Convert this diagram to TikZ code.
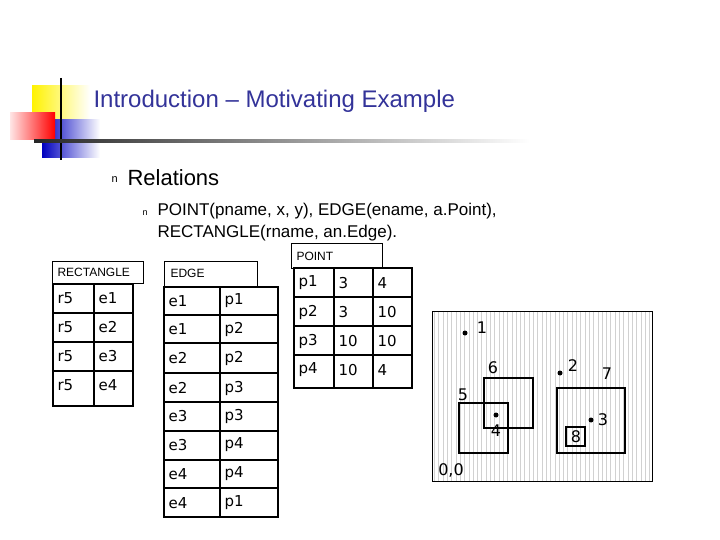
\documentclass[tikz,border=0pt]{standalone}
\usepackage{fontspec}
\setmainfont{DejaVu Sans}
\newfontfamily\lib{Liberation Sans}
\usetikzlibrary{shadings}
\definecolor{titleblue}{RGB}{51,51,153}
\tikzset{x=1pt,y=-1pt,
 cell/.style={draw,line width=1.3pt},
 tab/.style={draw,line width=2pt},
 lab/.style={draw,line width=0.6pt,fill=white},
 ct/.style={anchor=west,font=\fontsize{15}{15}\selectfont},
 lt/.style={anchor=west,font=\lib\fontsize{12}{12}\selectfont},
 gt/.style={font=\fontsize{16}{16}\selectfont},
 dot/.style={circle,fill=black,inner sep=0pt,minimum size=5pt},
 rct/.style={draw,line width=2.3pt}}
\begin{document}
\begin{tikzpicture}
\useasboundingbox (0,0) rectangle (720,540);
% decoration
\shade[left color=yellow!90!orange,right color=white] (32,86) rectangle (90,122);
\shade[left color=blue!75!black,right color=white] (42,120) rectangle (100,158);
\shade[left color=red!10,right color=red] (10,113) rectangle (55,140);
\draw[line width=1.8pt] (61,78) -- (61,160);
\shade[left color=black!85,right color=white] (34,140) rectangle (530,143);
\node[anchor=west,text=titleblue,font=\lib\fontsize{24}{24}\selectfont] (title) at (90,101) {Introduction – Motivating Example};
\node[anchor=west,font=\lib\fontsize{11}{11}\selectfont] (b1) at (108,180) {n};
\node[anchor=west,font=\lib\fontsize{22}{22}\selectfont] (rel) at (124,178) {Relations};
\node[anchor=west,font=\lib\fontsize{9}{9}\selectfont] (b2) at (139,213) {n};
\node[anchor=north west,align=left,font=\lib\fontsize{17}{22}\selectfont] (pt) at (154,200) {POINT(pname, x, y), EDGE(ename, a.Point),\\RECTANGLE(rname, an.Edge).};
% RECTANGLE
\draw[lab] (52,261) rectangle (143,283);
\node[lt] (rl) at (54,272) {RECTANGLE};
\foreach \y in {284,313,342,371} \draw[cell] (53,\y) -- (133,\y);
\draw[cell] (94,284) -- (94,406);
\draw[tab] (53,284) rectangle (133,406);
\foreach \t [count=\i] in {e1,e2,e3,e4}{
 \node[ct] at (54,284+29*\i-14.5) {r5};
 \node[ct] at (95,284+29*\i-14.5) {\t};}
% EDGE
\draw[lab] (164,261) rectangle (257,286);
\node[lt] (el) at (167,273) {EDGE};
\foreach \y in {315,343,373,402,431,460,488} \draw[cell] (164,\y) -- (278,\y);
\draw[cell] (220,287) -- (220,517);
\draw[tab] (164,287) rectangle (278,517);
\foreach \a/\b/\yy in {e1/p1/301,e1/p2/329,e2/p2/358,e2/p3/388,e3/p3/416,e3/p4/445,e4/p4/474,e4/p1/503}{
 \node[ct] at (165,\yy) {\a};
 \node[ct] at (221,\yy) {\b};}
% POINT
\draw[lab] (291,243) rectangle (382,268);
\node[lt] (pl) at (293,256) {POINT};
\foreach \y in {297,326,355} \draw[cell] (294,\y) -- (412,\y);
\draw[cell] (334,268) -- (334,388);
\draw[cell] (373,268) -- (373,388);
\draw[tab] (294,268) rectangle (412,388);
\foreach \a/\b/\c/\yy in {p1/3/4/283,p2/3/10/312,p3/10/10/341,p4/10/4/370}{
 \node[ct] at (295,\yy) {\a};
 \node[ct] at (335,\yy) {\b};
 \node[ct] at (374,\yy) {\c};}
% grid
\draw[black!18,line width=0.4pt,step=4.3] (432,311) grid (652,481);
\draw[line width=0.8pt] (432,311) rectangle (652,481);
\draw[rct] (459,403) rectangle (508,453);
\draw[rct] (484,378) rectangle (533,428);
\draw[rct] (557,388) rectangle (625,453);
\draw[rct] (566,427) rectangle (585,446);
\node[dot] (d1) at (465,333) {};
\node[dot] (d2) at (560,373) {};
\node[dot] (d3) at (591,420) {};
\node[dot] (d4) at (496,415) {};
\node[gt] at (482,328) {1};
\node[gt] at (573,366) {2};
\node[gt] at (603,420) {3};
\node[gt] at (496,431) {4};
\node[gt] at (463,395) {5};
\node[gt] at (493,368) {6};
\node[gt] at (607,374) {7};
\node[gt] at (576,437) {8};
\node[gt] at (451,470) {0,0};
\end{tikzpicture}
\end{document}
